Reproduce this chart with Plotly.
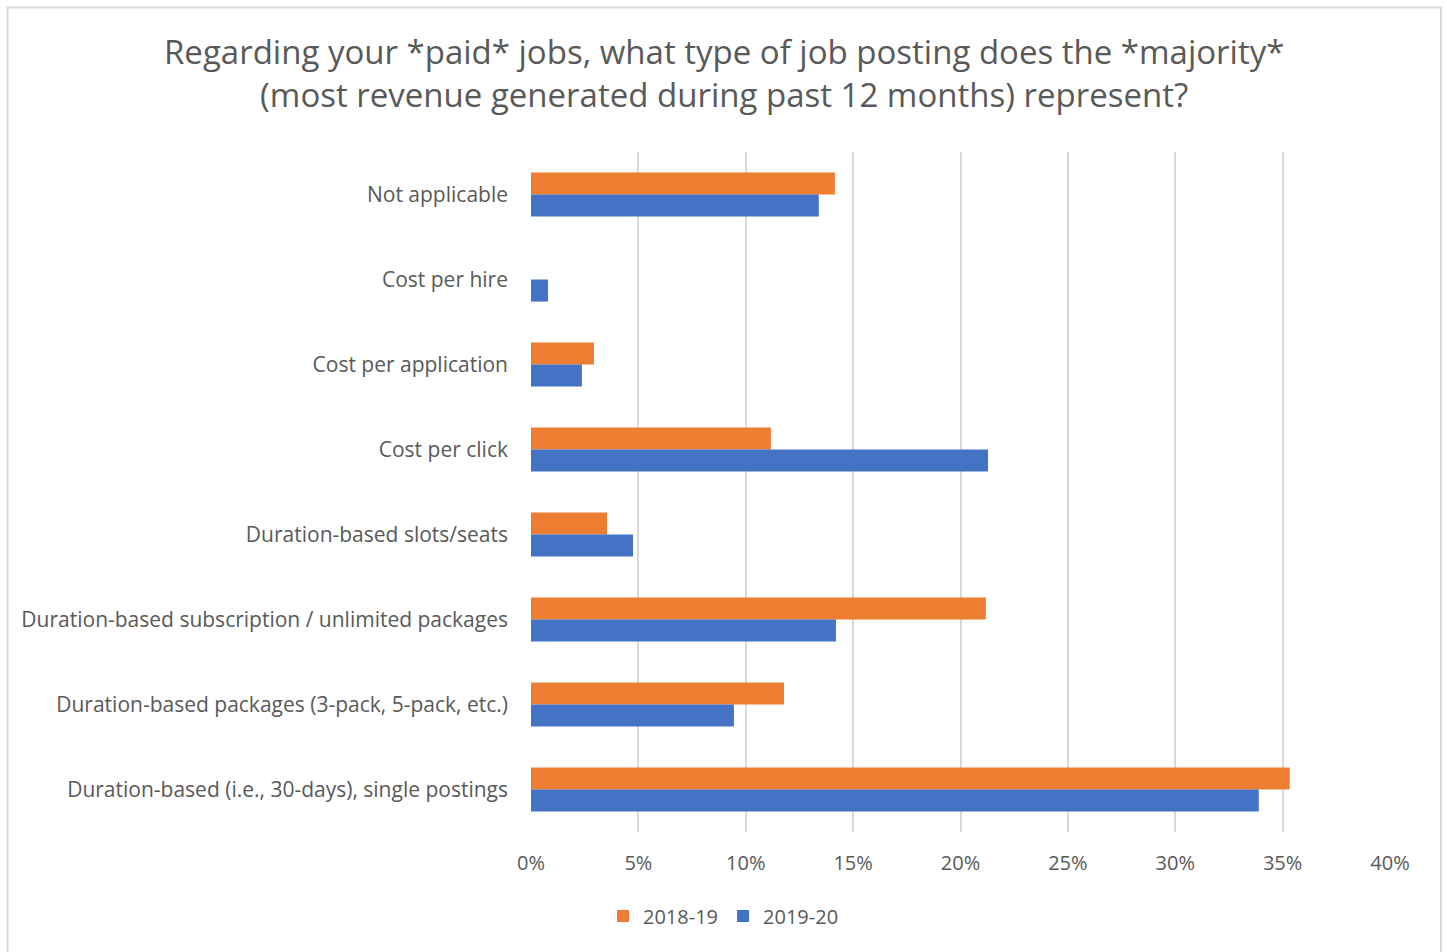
import plotly.graph_objects as go

# Job posting types (listed top to bottom)
categories = [
    "Not applicable",
    "Cost per hire",
    "Cost per application",
    "Cost per click",
    "Duration-based slots/seats",
    "Duration-based subscription / unlimited packages",
    "Duration-based packages (3-pack, 5-pack, etc.)",
    "Duration-based (i.e., 30-days), single postings",
]

# Share of respondents, as fractions
share_2018_19 = [0.1415, 0.0, 0.0293, 0.1117, 0.0354, 0.2118, 0.1178, 0.3533]
share_2019_20 = [0.1340, 0.0079, 0.0237, 0.2128, 0.0475, 0.1420, 0.0945, 0.3389]

series_names = ["2018-19", "2019-20"]
series_colors = ["#ED7D31", "#4472C4"]

x_ticks = [0, 0.05, 0.10, 0.15, 0.20, 0.25, 0.30, 0.35, 0.40]

title_text = ("Regarding your *paid* jobs, what type of job posting does the *majority*<br>"
              "(most revenue generated during past 12 months) represent?")

TEXT = "#595959"
GRID = "#D9D9D9"
FONT = "Open Sans, Noto Sans, sans-serif"

W, H = 1447, 952
L, R, T, B = 531, 57, 152, 120
plot_w = W - L - R
plot_h = H - T - B


def px_to_paper_x(px):
    return (px - L) / plot_w


def px_to_paper_y(py):
    return (H - B - py) / plot_h


fig = go.Figure()
for name, vals, color in zip(series_names, [share_2018_19, share_2019_20], series_colors):
    fig.add_trace(go.Bar(
        y=categories,
        x=vals,
        name=name,
        orientation="h",
        marker=dict(color=color, line=dict(width=0)),
    ))

fig.update_layout(
    width=W,
    height=H,
    barmode="group",
    bargap=0.48,
    bargroupgap=0,
    plot_bgcolor="white",
    paper_bgcolor="white",
    margin=dict(l=L, r=R, t=T, b=B),
    font=dict(family=FONT, color=TEXT),
    legend=dict(
        orientation="h",
        xref="container",
        yref="container",
        x=0.5,
        xanchor="center",
        y=1 - 916 / H,
        yanchor="middle",
        font=dict(size=20, color=TEXT),
        itemwidth=30,
        traceorder="normal",
    ),
    xaxis=dict(
        range=[0, 0.40],
        tickvals=x_ticks,
        tickformat=".0%",
        showgrid=True,
        gridcolor=GRID,
        gridwidth=2,
        zeroline=False,
        showline=False,
        ticks="",
        ticklabelstandoff=17,
        tickfont=dict(size=20, color=TEXT),
        fixedrange=True,
    ),
    yaxis=dict(
        autorange="reversed",
        showgrid=False,
        zeroline=False,
        showline=False,
        ticks="",
        ticklabelstandoff=22,
        tickfont=dict(size=21, color=TEXT),
        fixedrange=True,
    ),
    annotations=[
        dict(
            text=title_text,
            xref="paper",
            yref="paper",
            x=px_to_paper_x(W / 2),
            y=px_to_paper_y(27),
            xanchor="center",
            yanchor="top",
            align="center",
            showarrow=False,
            font=dict(size=33, color=TEXT, family=FONT),
        )
    ],
    shapes=[
        # light frame around the whole chart
        dict(
            type="rect",
            xref="paper",
            yref="paper",
            x0=px_to_paper_x(7.5),
            x1=px_to_paper_x(1441),
            y0=px_to_paper_y(990),
            y1=px_to_paper_y(7.5),
            line=dict(color=GRID, width=2),
            fillcolor="rgba(0,0,0,0)",
            layer="below",
        )
    ],
)

fig.write_html("out.html")
